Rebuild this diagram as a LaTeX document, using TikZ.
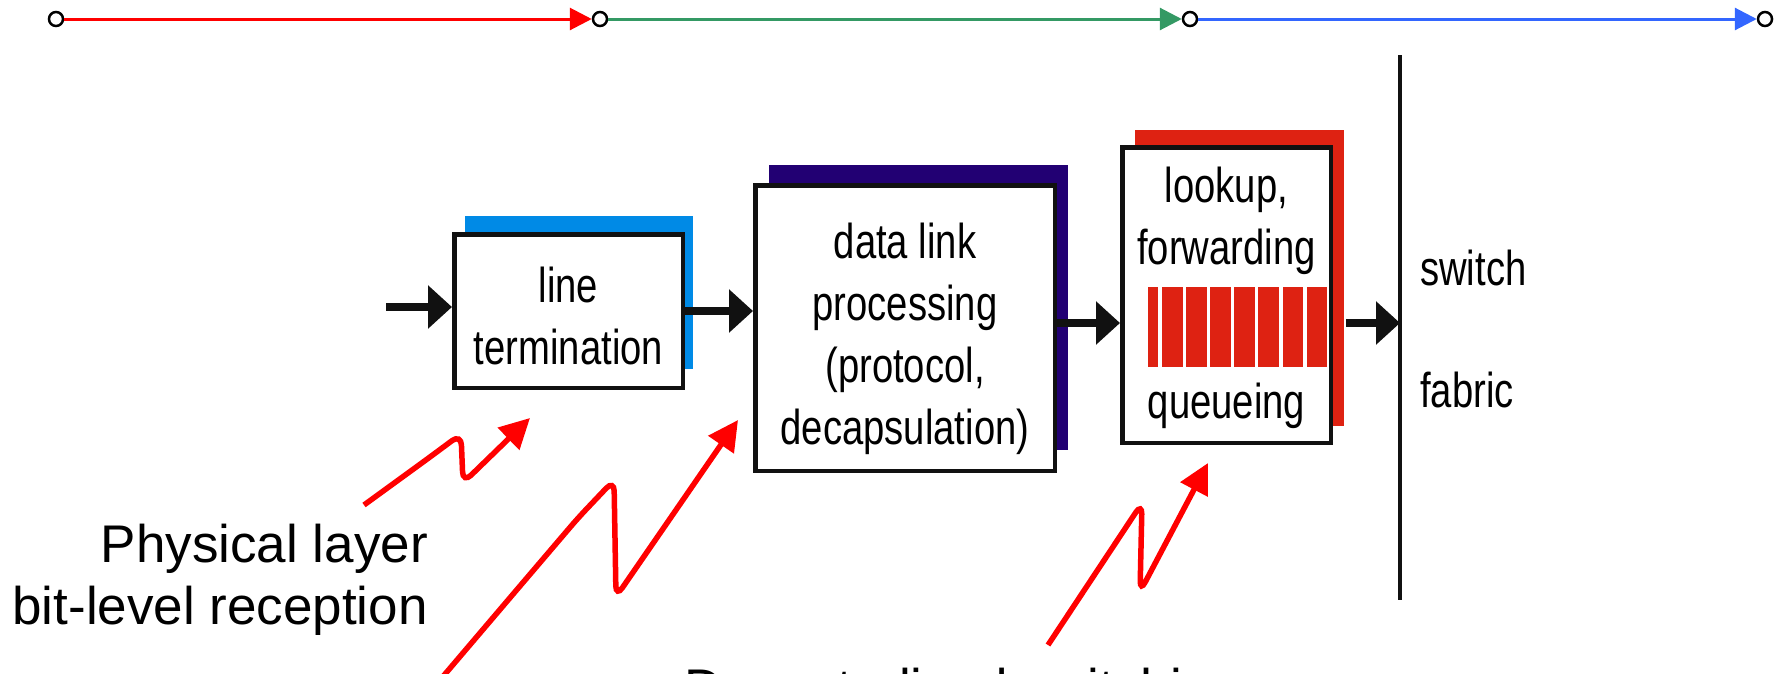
\documentclass[tikz,border=0pt]{standalone}
\usepackage{fontspec}
\setmainfont{Liberation Sans}
\newfontfamily\narrowsans[FakeStretch=0.78]{Liberation Sans}
\usetikzlibrary{arrows.meta, positioning, shadows}
\definecolor{LineBlue}{RGB}{0, 138, 230}
\definecolor{LinkNavy}{RGB}{34, 0, 115}
\definecolor{QueueRed}{RGB}{222, 34, 18}
\definecolor{PathRed}{RGB}{255, 0, 0}
\definecolor{PathGreen}{RGB}{52, 153, 100}
\definecolor{PathBlue}{RGB}{51, 102, 255}
\definecolor{Ink}{RGB}{17, 17, 17}

\begin{document}
\begin{tikzpicture}[
    x=1pt, y=-1pt,
    every node/.style={inner sep=0pt},
    stage/.style={draw=Ink, line width=4.5pt, fill=white},
    inbox/.style={align=center, font=\narrowsans\fontsize{49}{62}\selectfont},
    note/.style={font=\fontsize{53}{62}\selectfont, align=right},
    flow/.style={-{Triangle[length=24pt, width=42pt]}, Ink, line width=8pt},
    hint/.style={-{Triangle[length=30pt, width=30pt]}, PathRed, line width=5.5pt,
                 rounded corners=11pt},
    stop/.style={circle, draw=black, fill=white, line width=2.5pt, minimum size=14pt},
    track/.style={-{Triangle[length=22pt, width=22pt]}, line width=3pt}
]
\useasboundingbox (0,0) rectangle (1776,673);

% timeline on top
\node[stop] (s0) at (56,19) {};
\node[stop] (s1) at (600,19) {};
\node[stop] (s2) at (1190,19) {};
\node[stop] (s3) at (1765,19) {};
\draw[track, PathRed] (s0) -- (s1);
\draw[track, PathGreen] (s1) -- (s2);
\draw[track, PathBlue] (s2) -- (s3);

% input port stages
\node[stage, minimum width=228.5pt, minimum height=153.5pt,
      drop shadow={shadow xshift=10.5pt, shadow yshift=18.5pt, fill=LineBlue, opacity=1}]
      (term) at (568.5,311) {};
\node[inbox, below=35pt of term.north] (termtxt) {line\\termination};
\node[stage, minimum width=299.5pt, minimum height=285.5pt,
      drop shadow={shadow xshift=13.5pt, shadow yshift=20.5pt, fill=LinkNavy, opacity=1}]
      (link) at (905,328) {};
\node[inbox, below=40pt of link.north] (linktxt) {data link\\processing\\(protocol,\\decapsulation)};
\node[stage, minimum width=208.5pt, minimum height=295.5pt,
      drop shadow={shadow xshift=13pt, shadow yshift=17pt, fill=QueueRed, opacity=1}]
      (fwd) at (1226.5,295) {};
\node[inbox, below=22pt of fwd.north] (look) {lookup,\\forwarding};
\node[inbox, above=16pt of fwd.south] (queue) {queueing};
\fill[QueueRed] (1148,287) rectangle (1158,367);
\foreach \i in {0,...,6}
    \fill[QueueRed] (1162+24.1*\i,287) rectangle ++(20.5,80);

% switch fabric
\coordinate (fabtop) at (1400,55);
\coordinate (fabbot) at (1400,600);
\draw[Ink, line width=4pt] (fabtop) -- (fabbot);
\node[inbox, anchor=base west] (sw) at (1420,285) {switch};
\node[inbox, anchor=base west] (fab) at (1420,407) {fabric};

% packet flow
\coordinate (feed) at (386,307);
\coordinate (lvl) at ([yshift=5pt]link.east);
\draw[flow] (feed) -- (term.west |- feed);
\draw[flow] (term.east) -- (term.east -| link.west);
\draw[flow] (lvl) -- (fwd.west |- lvl);
\draw[flow] ([xshift=13pt]fwd.east |- lvl) -- (fabtop |- lvl);

% labels and pointers
\node[note, anchor=north east] (phys) at (428,524) {Physical layer\\bit-level reception};
\node[note, anchor=north west] (decent) at (684,668) {Decentralized switching};
\coordinate (physTail) at (364,505);
\coordinate (physTip) at (530,418);
\coordinate (linkTail) at (440,680);
\coordinate (linkTip) at (738,420);
\coordinate (fwdTail) at (1048,645);
\coordinate (fwdTip) at (1208,463);
\draw[hint] (physTail) -- (430,457) -- (461,434) -- (463,483) -- (physTip);
\draw[hint] (linkTail) -- (520,586) -- (578,518) -- (614,480) -- (616,597) -- (linkTip);
\draw[hint] (fwdTail) -- (1142,503) -- (1140,592) -- (fwdTip);
\end{tikzpicture}
\end{document}
